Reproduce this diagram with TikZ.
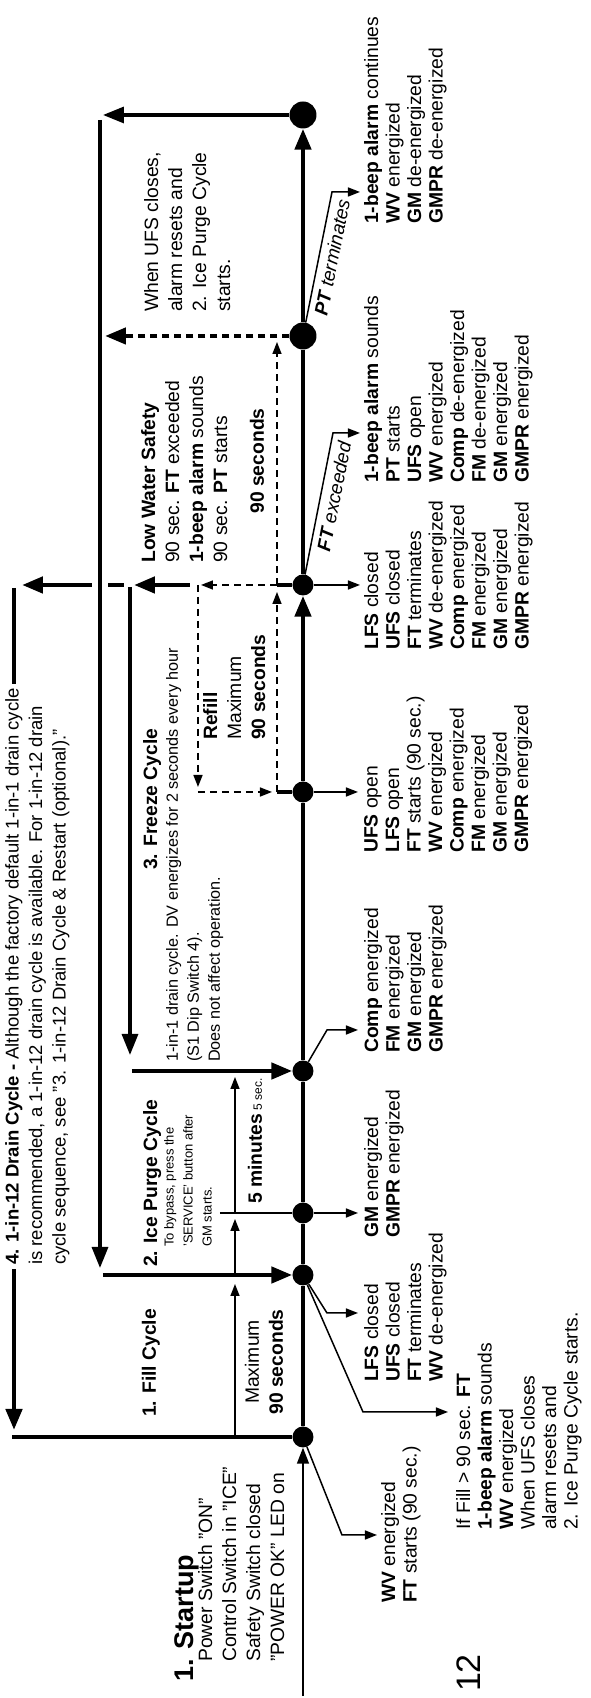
\documentclass[tikz,border=0pt]{standalone}
\usepackage{fontspec}
\setmainfont{Liberation Sans}
\usetikzlibrary{arrows.meta}

\begin{document}
\begin{tikzpicture}[x=1pt,y=1pt,rotate=90,transform shape]
\tikzstyle{every node}+=[inner sep=0pt,align=left,font=\fontsize{19.3}{21.5}\selectfont]
\tikzstyle{dot}=[circle,fill=black,minimum size=21pt]
\tikzstyle{bigdot}=[circle,fill=black,minimum size=27pt]
\tikzstyle{heavy}=[line width=4.6pt]
\tikzstyle{mid}=[line width=3.2pt]
\tikzstyle{light}=[line width=1.5pt]
\tikzstyle{refill}=[line width=1.5pt,dash pattern=on 7pt off 5pt]
\tikzstyle{ptdash}=[line width=4.5pt,dash pattern=on 7pt off 5pt]
\tikzstyle{bigtip}=[-{Triangle[length=21pt,width=16pt]}]
\tikzstyle{midtip}=[-{Triangle[length=16pt,width=12pt]}]
\tikzstyle{tip}=[-{Triangle[length=12pt,width=9pt]}]
\tikzstyle{wide}=[font=\fontsize{19.3}{24}\selectfont]
\tikzstyle{drainfont}=[font=\fontsize{18.5}{23.5}\selectfont]
\tikzstyle{small}=[font=\fontsize{16.2}{21}\selectfont]
\tikzstyle{tiny}=[font=\fontsize{13}{19}\selectfont]
\tikzstyle{slant}=[font=\fontsize{19}{20}\selectfont\itshape,anchor=north]
\useasboundingbox (0,0) rectangle (1698,590);
\node[dot] (start) at (261,287) {};
\node[dot] (fill) at (423,287) {};
\node[dot] (gm) at (485,287) {};
\node[dot] (comp) at (627,287) {};
\node[dot] (ufs) at (906,287) {};
\node[dot] (lfs) at (1113,287) {};
\node[bigdot] (pt) at (1362,287) {};
\node[bigdot] (fin) at (1583,287) {};
\coordinate (in) at (2,287);
\coordinate (drainbot) at (261,578);
\coordinate (draintop) at (1110,576);
\coordinate (drainend) at (268,576);
\coordinate (fillmax1) at (261,355);
\coordinate (fillmax2) at (414,355);
\coordinate (purge1) at (423,355);
\coordinate (purge2) at (479,355);
\coordinate (gmtop) at (485,370);
\coordinate (gmtext) at (485,232);
\coordinate (min1) at (485,355);
\coordinate (min2) at (621,355);
\coordinate (compbend) at (668,263);
\coordinate (comptext) at (668,232);
\coordinate (startbend) at (163,248);
\coordinate (starttext) at (163,213);
\coordinate (fillbend) at (385,263);
\coordinate (filltext) at (385,232);
\coordinate (alarmbend) at (286,227);
\coordinate (alarmtext) at (286,142);
\coordinate (ufstext) at (906,232);
\coordinate (lfstext) at (1113,230);
\coordinate (ftbend) at (1265,257);
\coordinate (fttext) at (1265,230);
\coordinate (ptbend) at (1506,258);
\coordinate (pttext) at (1506,230);
\coordinate (finup) at (1583,487);
\coordinate (back1) at (1578,490);
\coordinate (back2) at (430,490);
\coordinate (back3) at (423,487);
\coordinate (frz1) at (1111,460);
\coordinate (frz2) at (643,460);
\coordinate (frz3) at (627,458);
\coordinate (lfs1) at (1113,313);
\coordinate (lfs2) at (1113,389);
\coordinate (rf1) at (1113,392);
\coordinate (rf2) at (911,392);
\coordinate (rf3) at (906,392);
\coordinate (rf4) at (906,318);
\coordinate (ufs1) at (906,313);
\coordinate (frzup1) at (1113,400);
\coordinate (frzup2) at (1113,456);
\coordinate (drain1) at (1113,466);
\coordinate (drain2) at (1113,482);
\coordinate (drain3) at (1113,498);
\coordinate (drain4) at (1113,568);
\coordinate (rmax) at (1106,313);
\coordinate (lwmax) at (1356,313);
\coordinate (ptup) at (1362,485);
\draw[light,midtip] (in) -- (start);
\draw[heavy] (start) -- (fill) -- (gm) -- (comp) -- (ufs);
\draw[heavy,bigtip] (ufs) -- (lfs);
\draw[heavy] (lfs) -- (pt);
\draw[heavy,bigtip] (pt) -- (fin);
\draw[heavy] (start) -- (drainbot);
\draw[heavy,bigtip] (draintop) -- (drainend);
\draw[light,tip] (fillmax1) -- (fillmax2);
\draw[light,tip] (purge1) -- (purge2);
\draw[light] (gmtop) -- (gm);
\draw[light,tip] (gm) -- (gmtext);
\draw[light,tip] (min1) -- (min2);
\draw[light,tip] (comp) -- (compbend) -- (comptext);
\draw[light,tip] (start) -- (startbend) -- (starttext);
\draw[light,tip] (fill) -- (fillbend) -- (filltext);
\draw[light,tip] (fill) -- (alarmbend) -- (alarmtext);
\draw[light,tip] (ufs) -- (ufstext);
\draw[light,tip] (lfs) -- (lfstext);
\draw[light,tip] (lfs) -- (ftbend) -- (fttext);
\draw[light,tip] (pt) -- (ptbend) -- (pttext);
\draw[mid,bigtip] (fin) -- (finup);
\draw[mid,bigtip] (back1) -- (back2);
\draw[heavy,bigtip] (back3) -- (fill);
\draw[mid,bigtip] (frz1) -- (frz2);
\draw[heavy,bigtip] (frz3) -- (comp);
\draw[heavy] (lfs) -- (lfs1);
\draw[refill,tip] (lfs1) -- (lfs2);
\draw[refill,tip] (rf1) -- (rf2);
\draw[refill,tip] (rf3) -- (rf4);
\draw[heavy] (ufs1) -- (ufs);
\draw[refill,tip] (ufs1) -- (rmax);
\draw[refill,tip] (lfs1) -- (lwmax);
\draw[heavy,bigtip] (frzup1) -- (frzup2);
\draw[heavy] (drain1) -- (drain2);
\draw[heavy,bigtip] (drain3) -- (drain4);
\draw[ptdash,bigtip] (pt) -- (ptup);
\node[drainfont,anchor=north west,fill=white,inner xsep=4pt] (drain) at (429,585) {\textbf{4. 1-in-12 Drain Cycle -} Although the factory default 1-in-1 drain cycle\\is recommended, a 1-in-12 drain cycle is available. For 1-in-12 drain\\cycle sequence, see "3. 1-in-12 Drain Cycle \& Restart (optional)."};
\node[anchor=north west] (startup) at (16,416) {\fontsize{27}{30}\selectfont\textbf{1. Startup}};
\node[wide,anchor=north west] (startupinfo) at (36,392) {Power Switch "ON"\\Control Switch in "ICE"\\Safety Switch closed\\"POWER OK" LED on};
\node (fillcycle) at (335,439) {\textbf{1. Fill Cycle}};
\node[wide,align=center] (fillmax) at (336,326) {Maximum\\\textbf{90 seconds}};
\node[anchor=north west] (purge) at (431,447) {\textbf{2. Ice Purge Cycle}};
\node[tiny,anchor=north west] (purgeinfo) at (451,426) {To bypass, press the\\'SERVICE' button after\\GM starts.};
\node[anchor=west] (fivemin) at (494,335) {\textbf{5 minutes}\,{\fontsize{12}{14}\selectfont 5 sec.}};
\node[anchor=north west] (freeze) at (828,447) {\textbf{3. Freeze Cycle}};
\node[small,anchor=north west] (freezeinfo) at (636,424) {1-in-1 drain cycle. DV energizes for 2 seconds every hour\\(S1 Dip Switch 4).\\Does not affect operation.};
\node[wide,anchor=north west] (refilltext) at (958,387) {\textbf{Refill}\\Maximum\\\textbf{90 seconds}};
\node[wide,anchor=north west] (lowwater) at (1135,449) {\textbf{Low Water Safety}\\90 sec. \textbf{FT} exceeded\\\textbf{1-beep alarm} sounds\\90 sec. \textbf{PT} starts};
\node (lowsec) at (1237,333) {\textbf{90 seconds}};
\node[wide,anchor=north west] (ufscloses) at (1386,446) {When UFS closes,\\alarm resets and\\2. Ice Purge Cycle\\starts.};
\node[slant,rotate=-11.2] (ftlabel) at (1203,263) {\textbf{FT} exceeded};
\node[slant,rotate=-11.4] (ptlabel) at (1442,265) {\textbf{PT} terminates};
\node[anchor=north west] (startinfo) at (95,209) {\textbf{WV} energized\\\textbf{FT} starts (90 sec.)};
\node[anchor=north west] (fillinfo) at (316,226) {\textbf{LFS} closed\\\textbf{UFS} closed\\\textbf{FT} terminates\\\textbf{WV} de-energized};
\node[anchor=north west] (alarminfo) at (168,134) {If Fill > 90 sec. \textbf{FT}\\\textbf{1-beep alarm} sounds\\\textbf{WV} energized\\When UFS closes\\alarm resets and\\2. Ice Purge Cycle starts.};
\node[anchor=north west] (gminfo) at (460,226) {\textbf{GM} energized\\\textbf{GMPR} energized};
\node[anchor=north west] (compinfo) at (645,226) {\textbf{Comp} energized\\\textbf{FM} energized\\\textbf{GM} energized\\\textbf{GMPR} energized};
\node[anchor=north west] (ufsinfo) at (845,226) {\textbf{UFS} open\\\textbf{LFS} open\\\textbf{FT} starts (90 sec.)\\\textbf{WV} energized\\\textbf{Comp} energized\\\textbf{FM} energized\\\textbf{GM} energized\\\textbf{GMPR} energized};
\node[anchor=north west] (lfsinfo) at (1048,226) {\textbf{LFS} closed\\\textbf{UFS} closed\\\textbf{FT} terminates\\\textbf{WV} de-energized\\\textbf{Comp} energized\\\textbf{FM} energized\\\textbf{GM} energized\\\textbf{GMPR} energized};
\node[anchor=north west] (ftinfo) at (1215,226) {\textbf{1-beep alarm} sounds\\\textbf{PT} starts\\\textbf{UFS} open\\\textbf{WV} energized\\\textbf{Comp} de-energized\\\textbf{FM} de-energized\\\textbf{GM} energized\\\textbf{GMPR} energized};
\node[anchor=north west] (ptinfo) at (1474,226) {\textbf{1-beep alarm} continues\\\textbf{WV} energized\\\textbf{GM} de-energized\\\textbf{GMPR} de-energized};
\node (page) at (25,121) {\fontsize{34}{36}\selectfont 12};
\end{tikzpicture}
\end{document}
